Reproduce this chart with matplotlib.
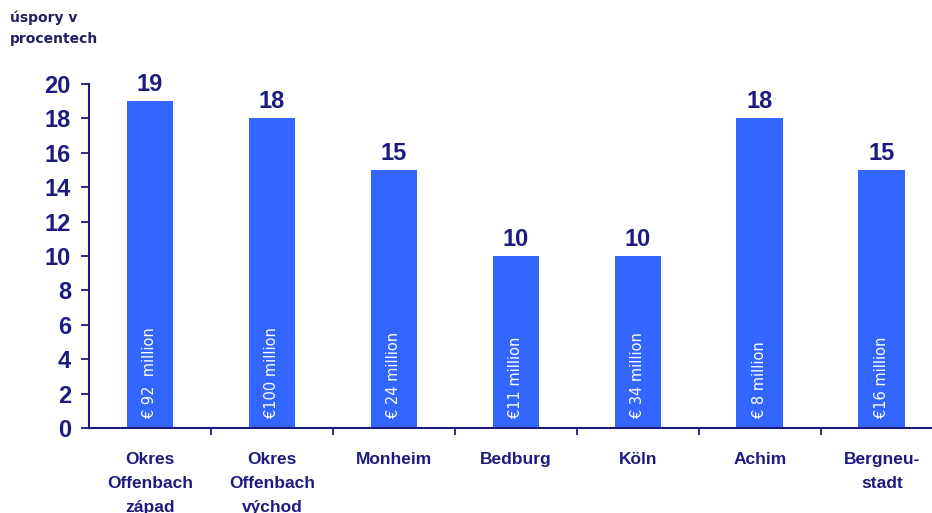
import matplotlib
matplotlib.use("Agg")
import matplotlib.pyplot as plt

categories = ["Okres\nOffenbach\nzápad", "Okres\nOffenbach\nvýchod", "Monheim", "Bedburg", "Köln", "Achim", "Bergneu-\nstadt"]
savings_pct = [19, 18, 15, 10, 10, 18, 15]
investment_labels = ["€ 92  million", "€100 million", "€ 24 million", "€11 million", "€ 34 million", "€ 8 million", "€16 million"]
y_ticks = [0, 2, 4, 6, 8, 10, 12, 14, 16, 18, 20]
y_label = "úspory v\nprocentech"

navy = "#1c1c80"
bar_color = "#3366ff"
font = ["Liberation Sans", "DejaVu Sans"]
plt.rcParams['font.family'] = font

fig = plt.figure(figsize=(9.32, 5.13), dpi=100)
ax = fig.add_axes([89/932, 85/513, 843/932, 344/513])

x = list(range(len(categories)))
bars = ax.bar(x, savings_pct, width=0.385, color=bar_color, zorder=2)

for xi, v in zip(x, savings_pct):
    ax.text(xi, v + 0.3, str(v), ha='center', va='bottom', fontsize=17, fontweight='bold', color=navy)

for xi, lab in zip(x, investment_labels):
    ax.text(xi, 0.6, lab, rotation=90, ha='center', va='bottom', fontsize=10.5,
            color='white', family=["DejaVu Sans"])

ax.set_xlim(-0.5, 6.41)
ax.set_ylim(0, 20)
ax.set_yticks(y_ticks)
ax.set_yticklabels([str(t) for t in y_ticks], fontsize=17, fontweight='bold', color=navy)

ax.set_xticks([i + 0.5 for i in range(len(categories) - 1)])
ax.set_xticklabels([])
ax.set_xticks(x, minor=True)
ax.set_xticklabels(categories, minor=True, fontsize=12.5, fontweight='bold', color=navy, linespacing=1.77)
ax.tick_params(axis='x', which='minor', length=0, pad=17)
ax.tick_params(axis='x', which='major', length=5, width=1.3, color=navy, direction='out')
ax.tick_params(axis='y', length=6, width=1.3, color=navy, direction='out', pad=7)

for s in ['top', 'right']:
    ax.spines[s].set_visible(False)
for s in ['left', 'bottom']:
    ax.spines[s].set_color(navy)
    ax.spines[s].set_linewidth(1.5)

fig.text(10/932, 1 - 11/513, y_label, ha='left', va='top', fontsize=10, color='#202060',
         linespacing=1.55, family=["DejaVu Sans"], fontweight='semibold')

fig.savefig("out.png", dpi=100)
